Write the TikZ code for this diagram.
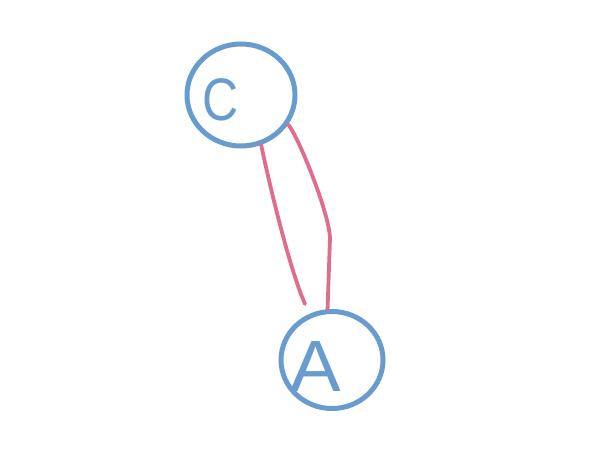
\documentclass[tikz,border=0pt]{standalone}
\usepackage{fontspec}
\setsansfont{Liberation Sans}
\usetikzlibrary{shapes.geometric}
\definecolor{penblue}{RGB}{104,156,206}
\definecolor{penpink}{RGB}{222,110,140}
\begin{document}
\begin{tikzpicture}[x=1pt,y=-1pt,
  bubble/.style={ellipse,draw=penblue,line width=5pt,inner sep=0pt},
  letter/.style={text=penblue,font=\sffamily\fontsize{#1}{#1}\selectfont},
  band/.style={draw=penpink,line width=3.8pt,line cap=round}]
\fill[white] (0,0) rectangle (597,471);
\node[bubble,minimum width=108pt,minimum height=102pt] (C) at (241,95) {};
\node[bubble,minimum width=102pt,minimum height=97pt] (A) at (332,360) {};
\node[letter=50,yscale=1.2] (tC) at (221,100) {C};
\node[letter=66,xscale=1.15,yscale=1.1] (tA) at (316,367) {A};
\coordinate (aL) at (305,304);
\coordinate (bR) at (330,238);
\draw[band] (C.-68) .. controls (268,178) and (289,268) .. (aL);
\draw[band] (C.-32) .. controls (298,136) and (329,212) .. (bR) -- (A.95);
\end{tikzpicture}
\end{document}
